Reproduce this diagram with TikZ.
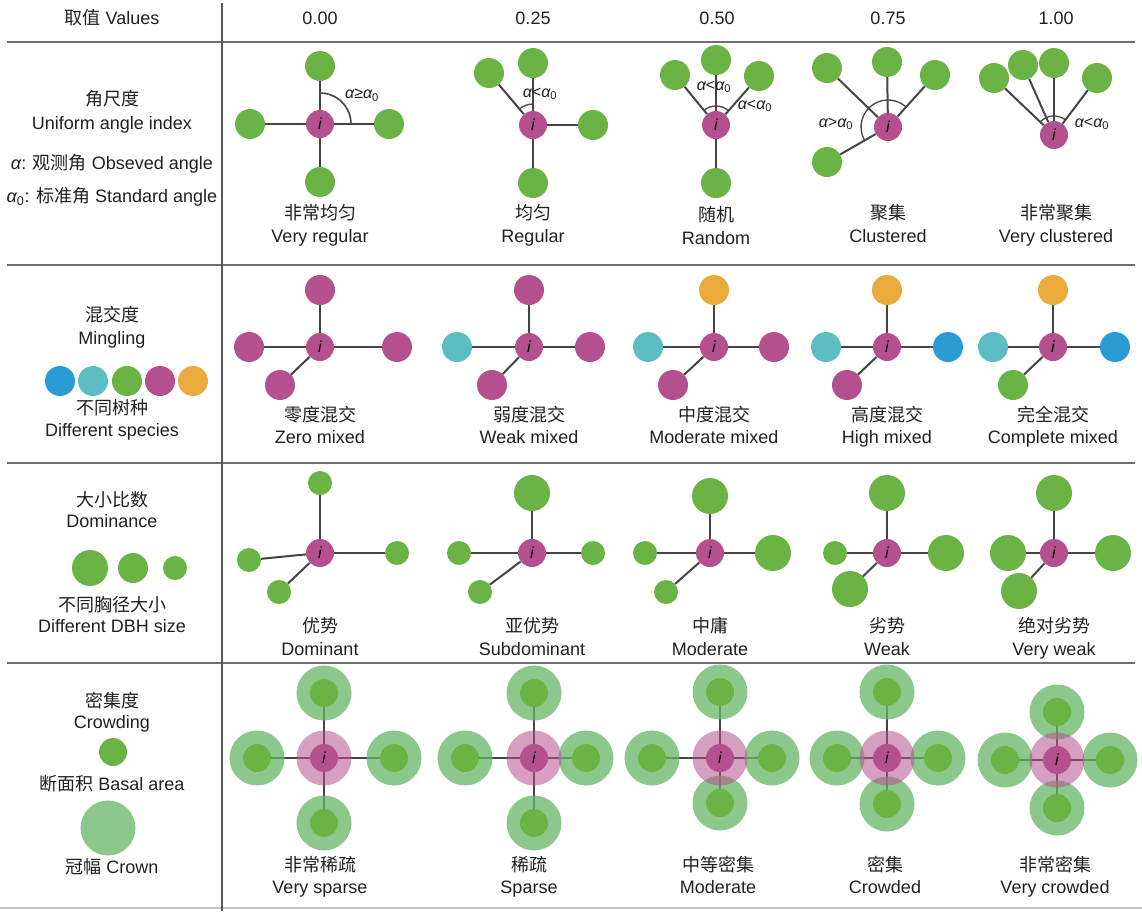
\documentclass[tikz,border=0pt]{standalone}
\usepackage{fontspec}
\setmainfont{Liberation Sans}
\newfontfamily\cjk{Noto Sans CJK SC}
\pgfdeclarelayer{bg}
\pgfdeclarelayer{mid}
\pgfsetlayers{bg,mid,main}
\definecolor{tg}{HTML}{6AB344}
\definecolor{mg}{HTML}{B5508F}
\definecolor{cy}{HTML}{5DBDC5}
\definecolor{bl}{HTML}{2B9CD3}
\definecolor{og}{HTML}{E9AB3C}
\definecolor{cg}{HTML}{66B666}
\definecolor{lg}{HTML}{454545}
\definecolor{rl}{HTML}{6E6E6E}
\definecolor{txt}{HTML}{231F20}
\newcommand{\fs}{\fontsize{18}{20}\selectfont}
\newcommand{\fa}{\fontsize{16}{18}\selectfont}
\newcommand{\al}{{\itshape α}}
\begin{document}
\begin{tikzpicture}[x=1pt,y=-1pt,
  tree/.style={circle,inner sep=0pt,minimum size=#1,draw=none},
  nb/.style={tree=30pt,fill=tg},
  sm/.style={tree=24pt,fill=tg},
  lgn/.style={tree=36pt,fill=tg},
  ctr/.style={tree=28pt,fill=mg,font=\fa\itshape,text=black},
  edge/.style={draw=lg,line width=2pt},
  arcl/.style={draw=lg,line width=1.6pt},
  lbl/.style={font=\fs,text=txt,inner sep=0pt,text height=13pt,text depth=4pt},
  alab/.style={font=\fa,text=txt,inner sep=0pt},
  crown/.style={tree=55pt,fill=cg,fill opacity=0.75},
  pcrown/.style={tree=55pt,fill=mg,fill opacity=0.55},
  inn/.style={tree=28pt,fill=tg},
  rule/.style={draw=rl,line width=2.2pt}]
\useasboundingbox (0,0) rectangle (1142,911);
\begin{pgfonlayer}{bg}
\fill[white] (0,0) rectangle (1142,911);
\end{pgfonlayer}

% table rules
\draw[rule] (7,42) -- (1135,42);
\draw[rule] (7,265) -- (1135,265);
\draw[rule] (7,463) -- (1135,463);
\draw[rule] (7,663) -- (1135,663);
\draw[draw=rl!40,line width=1.5pt] (0,908) -- (1142,908);
\draw[draw=lg!90,line width=2pt] (222,3) -- (222,911);

% header
\node[lbl] (hv) at (112,20) {{\cjk 取值} Values};
\node[lbl] (h0) at (320,20) {0.00};
\node[lbl] (h1) at (533,20) {0.25};
\node[lbl] (h2) at (717,20) {0.50};
\node[lbl] (h3) at (888,20) {0.75};
\node[lbl] (h4) at (1056,20) {1.00};

% ---------- Row 1: uniform angle index ----------
\node[lbl] (r1a) at (112,101) {\cjk 角尺度};
\node[lbl] (r1b) at (112,125) {Uniform angle index};
\node[lbl] (r1c) at (112,165) {\al: {\cjk 观测角} Obseved angle};
\node[lbl] (r1d) at (112,198) {\al\textsubscript{0}: {\cjk 标准角} Standard angle};

% col 0.00
\node[ctr] (a0i) at (320,124) {i};
\node[nb] (a0t) at (320,66) {};
\node[nb] (a0l) at (250,124) {};
\node[nb] (a0r) at (389,124) {};
\node[nb] (a0b) at (320,182) {};
\begin{pgfonlayer}{bg}
\draw[edge] (a0i) -- (a0t); \draw[edge] (a0i) -- (a0l);
\draw[edge] (a0i) -- (a0r); \draw[edge] (a0i) -- (a0b);
\end{pgfonlayer}
\draw[arcl] (a0i.center) ++(90:31pt) arc[start angle=90,end angle=0,radius=31pt];
\node[alab] (a0x) at (362,95) {\al≥\al\textsubscript{0}};
\node[lbl] (a0c) at (320,215) {\cjk 非常均匀};
\node[lbl] (a0e) at (320,238) {Very regular};

% col 0.25
\node[ctr] (a1i) at (533,125) {i};
\node[nb] (a1t) at (533,63) {};
\node[nb] (a1u) at (489,73) {};
\node[nb] (a1r) at (593,125) {};
\node[nb] (a1b) at (533,183) {};
\begin{pgfonlayer}{bg}
\draw[edge] (a1i) -- (a1t); \draw[edge] (a1i) -- (a1u);
\draw[edge] (a1i) -- (a1r); \draw[edge] (a1i) -- (a1b);
\end{pgfonlayer}
\draw[arcl,line width=1.3pt] (a1i.center) ++(90:21pt) arc[start angle=90,end angle=130,radius=21pt];
\node[alab] (a1x) at (540,94) {\al<\al\textsubscript{0}};
\node[lbl] (a1c) at (533,215) {\cjk 均匀};
\node[lbl] (a1e) at (533,238) {Regular};

% col 0.50
\node[ctr] (a2i) at (716,125) {i};
\node[nb] (a2t) at (716,60) {};
\node[nb] (a2u) at (675,75) {};
\node[nb] (a2v) at (759,76) {};
\node[nb] (a2b) at (716,183) {};
\begin{pgfonlayer}{bg}
\draw[edge] (a2i) -- (a2t); \draw[edge] (a2i) -- (a2u);
\draw[edge] (a2i) -- (a2v); \draw[edge] (a2i) -- (a2b);
\end{pgfonlayer}
\draw[arcl,line width=1.3pt] (a2i.center) ++(48.7:19pt) arc[start angle=48.7,end angle=129.4,radius=19pt];
\node[alab] (a2x) at (714,87) {\al<\al\textsubscript{0}};
\node[alab] (a2y) at (755,106) {\al<\al\textsubscript{0}};
\node[lbl] (a2c) at (716,217) {\cjk 随机};
\node[lbl] (a2e) at (716,240) {Random};

% col 0.75
\node[ctr] (a3i) at (888,127) {i};
\node[nb] (a3t) at (887,62) {};
\node[nb] (a3u) at (827,68) {};
\node[nb] (a3v) at (935,75) {};
\node[nb] (a3l) at (827,162) {};
\begin{pgfonlayer}{bg}
\draw[edge] (a3i) -- (a3t); \draw[edge] (a3i) -- (a3u);
\draw[edge] (a3i) -- (a3v); \draw[edge] (a3i) -- (a3l);
\end{pgfonlayer}
\draw[arcl,line width=1.3pt] (a3i.center) ++(209.8:27pt) arc[start angle=209.8,end angle=47.9,radius=27pt];
\node[alab] (a3x) at (836,124) {\al>\al\textsubscript{0}};
\node[lbl] (a3c) at (888,215) {\cjk 聚集};
\node[lbl] (a3e) at (888,238) {Clustered};

% col 1.00
\node[ctr] (a4i) at (1054,135) {i};
\node[nb] (a4a) at (994,78) {};
\node[nb] (a4b) at (1023,65) {};
\node[nb] (a4c) at (1054,63) {};
\node[nb] (a4d) at (1097,78) {};
\begin{pgfonlayer}{bg}
\draw[edge] (a4i) -- (a4a); \draw[edge] (a4i) -- (a4b);
\draw[edge] (a4i) -- (a4c); \draw[edge] (a4i) -- (a4d);
\end{pgfonlayer}
\draw[arcl,line width=1.3pt] (a4i.center) ++(53:19pt) arc[start angle=53,end angle=136.5,radius=19pt];
\node[alab] (a4x) at (1092,124) {\al<\al\textsubscript{0}};
\node[lbl] (a4cc) at (1056,215) {\cjk 非常聚集};
\node[lbl] (a4e) at (1056,238) {Very clustered};

% ---------- Row 2: mingling ----------
\node[lbl] (r2a) at (112,317) {\cjk 混交度};
\node[lbl] (r2b) at (112,340) {Mingling};
\node[nb,fill=bl] (sp1) at (60,381) {};
\node[nb,fill=cy] (sp2) at (93,381) {};
\node[nb,fill=tg] (sp3) at (127,381) {};
\node[nb,fill=mg] (sp4) at (160,381) {};
\node[nb,fill=og] (sp5) at (193,381) {};
\node[lbl] (r2c) at (112,410) {\cjk 不同树种};
\node[lbl] (r2d) at (112,432) {Different species};

% col 0.00
\node[ctr] (b0i) at (320,347) {i};
\node[nb,fill=mg] (b0t) at (320,290) {};
\node[nb,fill=mg] (b0l) at (249,347) {};
\node[nb,fill=mg] (b0r) at (397,347) {};
\node[nb,fill=mg] (b0d) at (280,385) {};
\begin{pgfonlayer}{bg}
\draw[edge] (b0i) -- (b0t); \draw[edge] (b0i) -- (b0l);
\draw[edge] (b0i) -- (b0r); \draw[edge] (b0i) -- (b0d);
\end{pgfonlayer}
\node[lbl] (b0c) at (320,417) {\cjk 零度混交};
\node[lbl] (b0e) at (320,439) {Zero mixed};

% col 0.25
\node[ctr] (b1i) at (529,347) {i};
\node[nb,fill=mg] (b1t) at (529,290) {};
\node[nb,fill=cy] (b1l) at (457,347) {};
\node[nb,fill=mg] (b1r) at (590,347) {};
\node[nb,fill=mg] (b1d) at (492,385) {};
\begin{pgfonlayer}{bg}
\draw[edge] (b1i) -- (b1t); \draw[edge] (b1i) -- (b1l);
\draw[edge] (b1i) -- (b1r); \draw[edge] (b1i) -- (b1d);
\end{pgfonlayer}
\node[lbl] (b1c) at (529,417) {\cjk 弱度混交};
\node[lbl] (b1e) at (529,439) {Weak mixed};

% col 0.50
\node[ctr] (b2i) at (714,347) {i};
\node[nb,fill=og] (b2t) at (714,290) {};
\node[nb,fill=cy] (b2l) at (648,347) {};
\node[nb,fill=mg] (b2r) at (774,347) {};
\node[nb,fill=mg] (b2d) at (673,385) {};
\begin{pgfonlayer}{bg}
\draw[edge] (b2i) -- (b2t); \draw[edge] (b2i) -- (b2l);
\draw[edge] (b2i) -- (b2r); \draw[edge] (b2i) -- (b2d);
\end{pgfonlayer}
\node[lbl] (b2c) at (714,417) {\cjk 中度混交};
\node[lbl] (b2e) at (714,439) {Moderate mixed};

% col 0.75
\node[ctr] (b3i) at (887,347) {i};
\node[nb,fill=og] (b3t) at (887,290) {};
\node[nb,fill=cy] (b3l) at (826,347) {};
\node[nb,fill=bl] (b3r) at (948,347) {};
\node[nb,fill=mg] (b3d) at (847,385) {};
\begin{pgfonlayer}{bg}
\draw[edge] (b3i) -- (b3t); \draw[edge] (b3i) -- (b3l);
\draw[edge] (b3i) -- (b3r); \draw[edge] (b3i) -- (b3d);
\end{pgfonlayer}
\node[lbl] (b3c) at (887,417) {\cjk 高度混交};
\node[lbl] (b3e) at (887,439) {High mixed};

% col 1.00
\node[ctr] (b4i) at (1053,347) {i};
\node[nb,fill=og] (b4t) at (1053,290) {};
\node[nb,fill=cy] (b4l) at (993,347) {};
\node[nb,fill=bl] (b4r) at (1115,347) {};
\node[nb,fill=tg] (b4d) at (1013,385) {};
\begin{pgfonlayer}{bg}
\draw[edge] (b4i) -- (b4t); \draw[edge] (b4i) -- (b4l);
\draw[edge] (b4i) -- (b4r); \draw[edge] (b4i) -- (b4d);
\end{pgfonlayer}
\node[lbl] (b4c) at (1053,417) {\cjk 完全混交};
\node[lbl] (b4e) at (1053,439) {Complete mixed};

% ---------- Row 3: dominance ----------
\node[lbl] (r3a) at (112,502) {\cjk 大小比数};
\node[lbl] (r3b) at (112,523) {Dominance};
\node[lgn] (sz1) at (90,568) {};
\node[nb] (sz2) at (133,568) {};
\node[sm] (sz3) at (175,568) {};
\node[lbl] (r3c) at (112,607) {\cjk 不同胸径大小};
\node[lbl] (r3d) at (112,628) {Different DBH size};

% col 0.00
\node[ctr] (c0i) at (320,553) {i};
\node[sm] (c0t) at (320,483) {};
\node[sm] (c0l) at (249,560) {};
\node[sm] (c0r) at (397,553) {};
\node[sm] (c0d) at (279,592) {};
\begin{pgfonlayer}{bg}
\draw[edge] (c0i) -- (c0t); \draw[edge] (c0i) -- (c0l);
\draw[edge] (c0i) -- (c0r); \draw[edge] (c0i) -- (c0d);
\end{pgfonlayer}
\node[lbl] (c0c) at (320,628) {\cjk 优势};
\node[lbl] (c0e) at (320,651) {Dominant};

% col 0.25
\node[ctr] (c1i) at (532,553) {i};
\node[lgn] (c1t) at (532,493) {};
\node[sm] (c1l) at (459,553) {};
\node[sm] (c1r) at (593,553) {};
\node[sm] (c1d) at (480,592) {};
\begin{pgfonlayer}{bg}
\draw[edge] (c1i) -- (c1t); \draw[edge] (c1i) -- (c1l);
\draw[edge] (c1i) -- (c1r); \draw[edge] (c1i) -- (c1d);
\end{pgfonlayer}
\node[lbl] (c1c) at (532,628) {\cjk 亚优势};
\node[lbl] (c1e) at (532,651) {Subdominant};

% col 0.50
\node[ctr] (c2i) at (710,553) {i};
\node[lgn] (c2t) at (710,496) {};
\node[sm] (c2l) at (645,553) {};
\node[lgn] (c2r) at (773,553) {};
\node[sm] (c2d) at (666,592) {};
\begin{pgfonlayer}{bg}
\draw[edge] (c2i) -- (c2t); \draw[edge] (c2i) -- (c2l);
\draw[edge] (c2i) -- (c2r); \draw[edge] (c2i) -- (c2d);
\end{pgfonlayer}
\node[lbl] (c2c) at (710,628) {\cjk 中庸};
\node[lbl] (c2e) at (710,651) {Moderate};

% col 0.75
\node[ctr] (c3i) at (887,553) {i};
\node[lgn] (c3t) at (887,493) {};
\node[sm] (c3l) at (835,553) {};
\node[lgn] (c3r) at (946,553) {};
\node[lgn] (c3d) at (850,589) {};
\begin{pgfonlayer}{bg}
\draw[edge] (c3i) -- (c3t); \draw[edge] (c3i) -- (c3l);
\draw[edge] (c3i) -- (c3r); \draw[edge] (c3i) -- (c3d);
\end{pgfonlayer}
\node[lbl] (c3c) at (887,628) {\cjk 劣势};
\node[lbl] (c3e) at (887,651) {Weak};

% col 1.00
\node[ctr] (c4i) at (1054,553) {i};
\node[lgn] (c4t) at (1054,493) {};
\node[lgn] (c4l) at (1008,553) {};
\node[lgn] (c4r) at (1113,553) {};
\node[lgn] (c4d) at (1019,591) {};
\begin{pgfonlayer}{bg}
\draw[edge] (c4i) -- (c4t); \draw[edge] (c4i) -- (c4l);
\draw[edge] (c4i) -- (c4r); \draw[edge] (c4i) -- (c4d);
\end{pgfonlayer}
\node[lbl] (c4c) at (1054,628) {\cjk 绝对劣势};
\node[lbl] (c4e) at (1054,651) {Very weak};

% ---------- Row 4: crowding ----------
\node[lbl] (r4a) at (112,703) {\cjk 密集度};
\node[lbl] (r4b) at (112,724) {Crowding};
\node[inn] (ba) at (113,752) {};
\node[lbl] (r4c) at (112,786) {{\cjk 断面积} Basal area};
\node[crown] (cr) at (108,828) {};
\node[lbl] (r4d) at (112,869) {{\cjk 冠幅} Crown};

% col 0.00
\node[ctr] (d0i) at (324,758) {i};
\node[inn] (d0t) at (324,693) {};
\node[inn] (d0l) at (257,758) {};
\node[inn] (d0r) at (394,758) {};
\node[inn] (d0b) at (324,823) {};
\begin{pgfonlayer}{mid}
\node[crown] (d0tc) at (d0t) {}; \node[crown] (d0lc) at (d0l) {};
\node[crown] (d0rc) at (d0r) {}; \node[crown] (d0bc) at (d0b) {};
\node[pcrown] (d0ic) at (d0i) {};
\end{pgfonlayer}
\begin{pgfonlayer}{bg}
\draw[edge] (d0i) -- (d0t); \draw[edge] (d0i) -- (d0l);
\draw[edge] (d0i) -- (d0r); \draw[edge] (d0i) -- (d0b);
\end{pgfonlayer}
\node[lbl] (d0c) at (320,867) {\cjk 非常稀疏};
\node[lbl] (d0e) at (320,889) {Very sparse};

% col 0.25
\node[ctr] (d1i) at (534,758) {i};
\node[inn] (d1t) at (534,693) {};
\node[inn] (d1l) at (465,758) {};
\node[inn] (d1r) at (586,758) {};
\node[inn] (d1b) at (534,823) {};
\begin{pgfonlayer}{mid}
\node[crown] (d1tc) at (d1t) {}; \node[crown] (d1lc) at (d1l) {};
\node[crown] (d1rc) at (d1r) {}; \node[crown] (d1bc) at (d1b) {};
\node[pcrown] (d1ic) at (d1i) {};
\end{pgfonlayer}
\begin{pgfonlayer}{bg}
\draw[edge] (d1i) -- (d1t); \draw[edge] (d1i) -- (d1l);
\draw[edge] (d1i) -- (d1r); \draw[edge] (d1i) -- (d1b);
\end{pgfonlayer}
\node[lbl] (d1c) at (529,867) {\cjk 稀疏};
\node[lbl] (d1e) at (529,889) {Sparse};

% col 0.50
\node[ctr] (d2i) at (720,758) {i};
\node[inn] (d2t) at (720,692) {};
\node[inn] (d2l) at (652,758) {};
\node[inn] (d2r) at (772,758) {};
\node[inn] (d2b) at (720,803) {};
\begin{pgfonlayer}{mid}
\node[crown] (d2tc) at (d2t) {}; \node[crown] (d2lc) at (d2l) {};
\node[crown] (d2rc) at (d2r) {}; \node[crown] (d2bc) at (d2b) {};
\node[pcrown] (d2ic) at (d2i) {};
\end{pgfonlayer}
\begin{pgfonlayer}{bg}
\draw[edge] (d2i) -- (d2t); \draw[edge] (d2i) -- (d2l);
\draw[edge] (d2i) -- (d2r); \draw[edge] (d2i) -- (d2b);
\end{pgfonlayer}
\node[lbl] (d2c) at (718,867) {\cjk 中等密集};
\node[lbl] (d2e) at (718,889) {Moderate};

% col 0.75
\node[ctr] (d3i) at (887,758) {i};
\node[inn] (d3t) at (887,692) {};
\node[inn] (d3l) at (837,758) {};
\node[inn] (d3r) at (938,758) {};
\node[inn] (d3b) at (887,804) {};
\begin{pgfonlayer}{mid}
\node[crown] (d3tc) at (d3t) {}; \node[crown] (d3lc) at (d3l) {};
\node[crown] (d3rc) at (d3r) {}; \node[crown] (d3bc) at (d3b) {};
\node[pcrown] (d3ic) at (d3i) {};
\end{pgfonlayer}
\begin{pgfonlayer}{bg}
\draw[edge] (d3i) -- (d3t); \draw[edge] (d3i) -- (d3l);
\draw[edge] (d3i) -- (d3r); \draw[edge] (d3i) -- (d3b);
\end{pgfonlayer}
\node[lbl] (d3c) at (885,867) {\cjk 密集};
\node[lbl] (d3e) at (885,889) {Crowded};

% col 1.00
\node[ctr] (d4i) at (1057,760) {i};
\node[inn] (d4t) at (1057,712) {};
\node[inn] (d4l) at (1005,760) {};
\node[inn] (d4r) at (1110,760) {};
\node[inn] (d4b) at (1057,808) {};
\begin{pgfonlayer}{mid}
\node[crown] (d4tc) at (d4t) {}; \node[crown] (d4lc) at (d4l) {};
\node[crown] (d4rc) at (d4r) {}; \node[crown] (d4bc) at (d4b) {};
\node[pcrown] (d4ic) at (d4i) {};
\end{pgfonlayer}
\begin{pgfonlayer}{bg}
\draw[edge] (d4i) -- (d4t); \draw[edge] (d4i) -- (d4l);
\draw[edge] (d4i) -- (d4r); \draw[edge] (d4i) -- (d4b);
\end{pgfonlayer}
\node[lbl] (d4c) at (1055,867) {\cjk 非常密集};
\node[lbl] (d4e) at (1055,889) {Very crowded};
\end{tikzpicture}
\end{document}
